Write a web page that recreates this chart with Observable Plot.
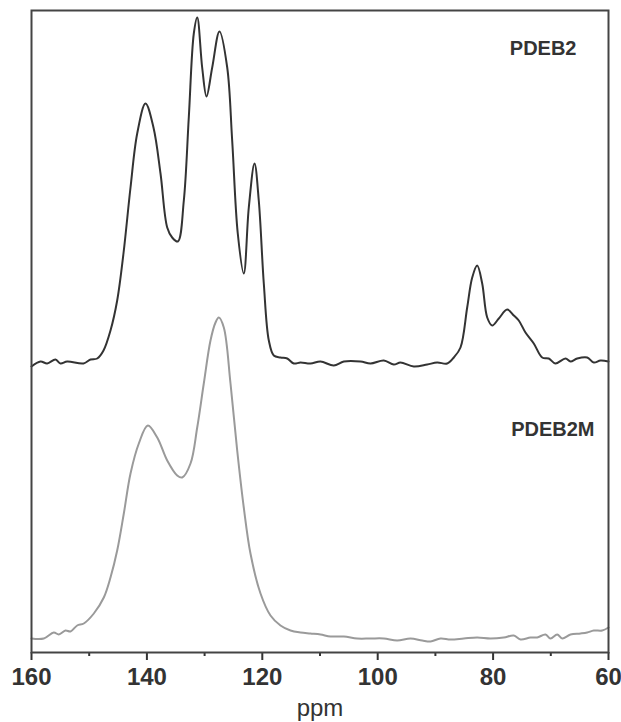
<!DOCTYPE html>
<html>
<head>
<meta charset="utf-8">
<script src="https://cdn.jsdelivr.net/npm/d3@7"></script>
<script src="https://cdn.jsdelivr.net/npm/@observablehq/plot@0.6"></script>
<style>
  html, body { margin: 0; padding: 0; background: #fff; }
  #chart svg { display: block; }
</style>
</head>
<body>
<div id="chart"></div>
<script>
// PDEB2 spectrum (chemical shift ppm, intensity a.u.)
const pdeb2Ppm = [160.0,158.44,157.28,155.84,154.97,153.81,150.99,149.77,148.61,147.52,146.31,145.15,144.06,142.84,141.68,140.24,138.86,137.64,136.48,135.62,134.64,133.60,132.74,131.87,131.28,130.42,129.67,128.68,127.42,126.08,125.22,124.25,123.21,122.34,121.35,120.61,119.74,118.87,118.01,116.85,115.68,114.54,113.38,111.65,109.91,107.61,105.87,102.98,101.25,98.94,97.21,96.05,93.74,91.42,89.69,87.96,86.81,85.65,84.49,83.62,82.76,81.89,81.02,80.16,79.01,77.56,76.41,75.55,74.39,72.95,71.49,70.35,69.19,67.45,66.59,65.42,63.69,62.55,61.39,60.0];
const pdeb2Int = [286,291,289,293,289,291,289,293,294,302,322,352,399,465,519,549,525,479,425,415,411,452,535,619,635,585,556,585,621,585,512,419,379,445,489,452,369,312,297,295,294,289,290,289,291,287,291,291,289,292,288,290,286,288,290,289,295,305,345,375,387,369,335,327,334,343,337,332,320,309,295,294,289,294,291,294,295,290,292,291];

// PDEB2M spectrum
const pdeb2mPpm = [160.0,157.87,156.14,155.27,154.11,153.24,152.08,150.94,149.20,147.47,146.31,145.15,144.00,142.84,141.40,139.84,138.21,136.48,134.75,133.88,132.44,131.28,130.14,128.98,128.11,127.54,126.67,125.51,124.35,123.21,122.05,120.31,118.58,116.85,115.11,113.38,111.65,109.91,108.18,105.87,103.55,101.25,98.94,96.62,94.32,92.29,90.85,89.12,87.38,85.08,82.76,80.45,78.15,76.41,75.25,73.52,72.36,70.92,70.05,68.89,68.02,66.59,64.85,63.69,62.55,61.09,60.0];
const pdeb2mInt = [14,14,20,18,22,21,27,29,39,55,75,102,139,179,209,227,215,192,177,175,189,225,269,312,330,335,325,269,202,145,99,59,37,27,22,20,19,18,16,16,14,14,14,12,14,12,11,14,13,14,15,14,15,17,13,15,15,18,14,18,14,18,19,20,22,22,25];

const seriesNames = ["PDEB2", "PDEB2M"];
const majorTicks = [160, 140, 120, 100, 80, 60];
const minorTicks = [150, 130, 110, 90, 70];
const axisTitle = "ppm";

const upperData = pdeb2Ppm.map((p, i) => ({ppm: p, intensity: pdeb2Int[i]}));
const lowerData = pdeb2mPpm.map((p, i) => ({ppm: p, intensity: pdeb2mInt[i]}));

const font = "'Liberation Sans', Arial, Helvetica, sans-serif";

const chart = Plot.plot({
  width: 621,
  height: 722,
  marginLeft: 31,
  marginRight: 13,
  marginTop: 10,
  marginBottom: 70,
  style: {fontFamily: font, background: "#fff", overflow: "visible"},
  x: {domain: [160, 60], axis: null},
  y: {domain: [0, 642], axis: null},
  marks: [
    Plot.axisX(minorTicks, {tickSize: 4, tickFormat: () => "", stroke: "#333", strokeWidth: 2, label: null}),
    Plot.axisX(majorTicks, {
      tickSize: 8, tickPadding: 7, stroke: "#333", strokeWidth: 2,
      fontSize: 24, fontWeight: "bold", fill: "#333", label: null
    }),
    Plot.line(lowerData, {x: "ppm", y: "intensity", stroke: "#9a9a9a", strokeWidth: 2, curve: "catmull-rom"}),
    Plot.line(upperData, {x: "ppm", y: "intensity", stroke: "#333", strokeWidth: 2, curve: "catmull-rom"}),
    Plot.frame({stroke: "#444", strokeWidth: 2}),
    Plot.text([seriesNames[0]], {
      frameAnchor: "top-right", dx: -32, dy: 44, lineAnchor: "bottom", textAnchor: "end",
      fontSize: 20, fontWeight: "bold", fill: "#333"
    }),
    Plot.text([seriesNames[1]], {
      frameAnchor: "top-right", dx: -14, dy: 425, lineAnchor: "bottom", textAnchor: "end",
      fontSize: 20, fontWeight: "bold", fill: "#333"
    }),
    Plot.text([axisTitle], {
      frameAnchor: "bottom", dy: 46, lineAnchor: "top",
      fontSize: 24, fill: "#333"
    })
  ]
});
document.getElementById("chart").appendChild(chart);
</script>
</body>
</html>
